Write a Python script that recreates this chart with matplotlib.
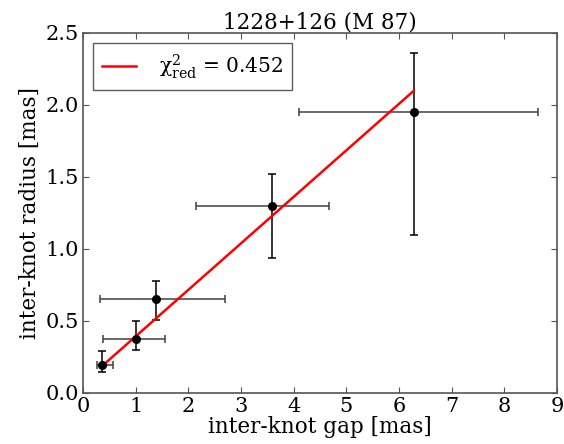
import matplotlib
matplotlib.use("Agg")
import matplotlib.pyplot as plt
import numpy as np

# data
gap = [0.365, 1.01, 1.39, 3.585, 6.28]
radius = [0.194, 0.373, 0.653, 1.30, 1.95]
gap_err_low = [0.10, 0.63, 1.07, 1.44, 2.17]
gap_err_high = [0.21, 0.54, 1.31, 1.08, 2.36]
radius_err_low = [0.046, 0.073, 0.146, 0.365, 0.85]
radius_err_high = [0.096, 0.127, 0.127, 0.22, 0.41]
fit_slope = 0.323
fit_intercept = 0.07
chi2_red = 0.452

plt.rcParams['font.family'] = ['DejaVu Serif']
plt.rcParams['mathtext.fontset'] = 'dejavuserif'

fig = plt.figure(figsize=(5.64, 4.44), dpi=100)
ax = fig.add_axes([83/564, 1-393/444, (557-83)/564, (393-33)/444])

ax.errorbar(gap, radius, xerr=[gap_err_low, gap_err_high], fmt='none',
            ecolor='#404040', elinewidth=1.1, capsize=3, capthick=1.1)
ax.errorbar(gap, radius, yerr=[radius_err_low, radius_err_high], fmt='o',
            color='black', ecolor='black', markersize=5.5,
            elinewidth=1.1, capsize=3, capthick=1.1)

xf = np.array([min(gap), max(gap)])
ax.plot(xf, fit_slope*xf + fit_intercept, color='red', lw=1.8,
        label=r'$\mathrm{\chi}^{2}_{\mathrm{red}}$ = %.3f' % chi2_red)

ax.set_xlim(0, 9)
ax.set_ylim(0, 2.5)
ax.set_xticks(range(0, 10))
ax.set_yticks(np.arange(0, 2.51, 0.5))
ax.tick_params(direction='in', top=True, right=True, labelsize=15,
               length=4, color='#555555', pad=3)
for s in ax.spines.values():
    s.set_color('#555555')
    s.set_linewidth(1.2)

ax.set_xlabel('inter-knot gap [mas]', fontsize=15.5, labelpad=0)
ax.set_ylabel('inter-knot radius [mas]', fontsize=15.5, labelpad=3)
ax.set_title('1228+126 (M 87)', fontsize=15.5, pad=3)

leg = ax.legend(loc='upper left', fontsize=14.5, fancybox=False,
                handlelength=1.7, borderpad=0.45, handletextpad=1.1,
                borderaxespad=0.5)
leg.get_frame().set_edgecolor('#333333')
leg.get_frame().set_linewidth(1.0)

fig.savefig('out.png', dpi=100)
